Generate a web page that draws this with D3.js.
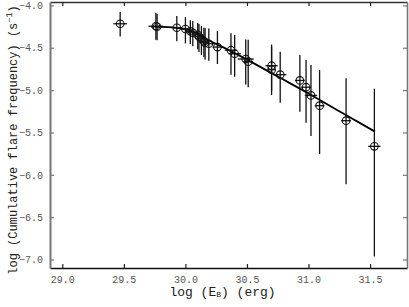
<!DOCTYPE html>
<html>
<head>
<meta charset="utf-8">
<script src="https://cdn.jsdelivr.net/npm/d3@7"></script>
<style>
  body { margin: 0; background: #fff; }
  svg { display: block; }
  text { font-family: "Liberation Mono", "DejaVu Sans Mono", monospace; }
</style>
</head>
<body>
<div id="grafico"></div>
<script>
// ==============================
// DATOS
// ==============================

const logE = [29.47, 29.76, 29.77, 29.93, 30.00, 30.04, 30.06, 30.10, 30.11, 30.13,
  30.15, 30.16, 30.19, 30.26, 30.37, 30.40, 30.49, 30.51, 30.70, 30.70,
  30.77, 30.93, 30.98, 31.02, 31.09, 31.305, 31.535];
const logF = [-4.217, -4.246, -4.252, -4.264, -4.279, -4.305, -4.323, -4.347, -4.370, -4.394,
  -4.423, -4.441, -4.453, -4.492, -4.529, -4.571, -4.633, -4.665, -4.712, -4.759,
  -4.818, -4.886, -4.966, -5.063, -5.184, -5.361, -5.664];
const errArriba = [0.14, 0.16, 0.15, 0.14, 0.14, 0.13, 0.14, 0.14, 0.15, 0.15,
  0.16, 0.17, 0.18, 0.19, 0.20, 0.22, 0.23, 0.26, 0.25, 0.27,
  0.27, 0.30, 0.32, 0.36, 0.42, 0.50, 0.68];
const errAbajo = [0.15, 0.16, 0.16, 0.16, 0.17, 0.15, 0.16, 0.17, 0.18, 0.19,
  0.19, 0.20, 0.20, 0.20, 0.29, 0.27, 0.30, 0.30, 0.30, 0.30,
  0.33, 0.37, 0.42, 0.48, 0.57, 0.75, 1.30];
const errE = [0.055, 0.06, 0.05, 0.04, 0.035, 0.03, 0.04, 0.04, 0.03, 0.035,
  0.04, 0.03, 0.04, 0.04, 0.05, 0.05, 0.065, 0.04, 0.05, 0.03,
  0.05, 0.04, 0.04, 0.05, 0.04, 0.04, 0.05];

// curva de ajuste
const ajusteX = [29.76, 29.93, 30.00, 30.10, 30.20, 30.30, 30.50, 30.75, 31.00, 31.25, 31.54];
const ajusteY = [-4.25, -4.265, -4.28, -4.335, -4.42, -4.49, -4.64, -4.84, -5.04, -5.25, -5.49];

const ticksX = [29.0, 29.5, 30.0, 30.5, 31.0, 31.5];
const ticksY = [-4.0, -4.5, -5.0, -5.5, -6.0, -6.5, -7.0];

// ==============================
// SVG Y ESCALAS
// ==============================

const W = 409, H = 307;
const m = { left: 50, right: 2, top: 2, bottom: 39 };

const svg = d3.select("#grafico").append("svg")
  .attr("width", W).attr("height", H);

const x = d3.scaleLinear().domain([28.9, 31.8]).range([m.left, W - m.right]);
const y = d3.scaleLinear().domain([-7.1, -3.96]).range([H - m.bottom, m.top]);

const fmt = d => d3.format(".1f")(d).replace("-", "\u2212");

// ejes (ticks hacia dentro)
svg.append("g")
  .attr("transform", `translate(0,${H - m.bottom})`)
  .call(d3.axisBottom(x).tickValues(ticksX).tickSizeInner(-4).tickSizeOuter(0).tickPadding(8).tickFormat(fmt))
  .call(g => g.select(".domain").attr("stroke", "#111").attr("stroke-width", 1.6))
  .call(g => g.selectAll(".tick line").attr("stroke", "#222").attr("stroke-width", 1.2))
  .call(g => g.selectAll("text").attr("font-size", 10).attr("fill", "#555")
    .attr("font-family", "Liberation Mono"));

svg.append("g")
  .attr("transform", `translate(0,${m.top})`)
  .call(d3.axisTop(x).tickValues(ticksX).tickSizeInner(-4).tickSizeOuter(0).tickFormat(""))
  .call(g => g.select(".domain").attr("stroke", "#333").attr("stroke-width", 1.4))
  .call(g => g.selectAll(".tick line").attr("stroke", "#222").attr("stroke-width", 1.2));

svg.append("g")
  .attr("transform", `translate(${m.left},0)`)
  .call(d3.axisLeft(y).tickValues(ticksY).tickSizeInner(-4).tickSizeOuter(0).tickPadding(7).tickFormat(fmt))
  .call(g => g.select(".domain").attr("stroke", "#777").attr("stroke-width", 2))
  .call(g => g.selectAll(".tick line").attr("stroke", "#777").attr("stroke-width", 1.2))
  .call(g => g.selectAll("text").attr("font-size", 10).attr("fill", "#555")
    .attr("font-family", "Liberation Mono"));

svg.append("g")
  .attr("transform", `translate(${W - m.right},0)`)
  .call(d3.axisRight(y).tickValues(ticksY).tickSizeInner(-4).tickSizeOuter(0).tickFormat(""))
  .call(g => g.select(".domain").attr("stroke", "#777").attr("stroke-width", 1.6))
  .call(g => g.selectAll(".tick line").attr("stroke", "#777").attr("stroke-width", 1.2));

// ==============================
// CURVA DE AJUSTE
// ==============================

const linea = d3.line()
  .x((d, i) => x(ajusteX[i]))
  .y(d => y(d))
  .curve(d3.curveMonotoneX);

svg.append("path")
  .datum(ajusteY)
  .attr("d", linea)
  .attr("fill", "none")
  .attr("stroke", "#000")
  .attr("stroke-width", 1.8);

// ==============================
// PUNTOS CON BARRAS DE ERROR
// ==============================

const puntos = svg.append("g").selectAll("g")
  .data(logE.map((e, i) => ({ e, f: logF[i], up: errArriba[i], dn: errAbajo[i], ex: errE[i] })))
  .join("g");

puntos.append("line")
  .attr("x1", d => x(d.e)).attr("x2", d => x(d.e))
  .attr("y1", d => y(d.f + d.up)).attr("y2", d => y(d.f - d.dn))
  .attr("stroke", "#111").attr("stroke-width", 1.3);

puntos.append("line")
  .attr("x1", d => x(d.e - d.ex)).attr("x2", d => x(d.e + d.ex))
  .attr("y1", d => y(d.f)).attr("y2", d => y(d.f))
  .attr("stroke", "#111").attr("stroke-width", 1.3);

puntos.append("circle")
  .attr("cx", d => x(d.e)).attr("cy", d => y(d.f))
  .attr("r", 3.8)
  .attr("fill", "none")
  .attr("stroke", "#111").attr("stroke-width", 1.1);

// ==============================
// ETIQUETAS
// ==============================

const etX = svg.append("text")
  .attr("x", (m.left + W - m.right) / 2 - 6)
  .attr("y", 296)
  .attr("text-anchor", "middle")
  .attr("font-size", 13)
  .attr("fill", "#222");
etX.append("tspan").text("log (E");
etX.append("tspan").attr("font-size", 8).attr("dy", 1).text("B");
etX.append("tspan").attr("dy", -1).text(") (erg)");

const etY = svg.append("text")
  .attr("transform", "translate(17,140) rotate(-90)")
  .attr("text-anchor", "middle")
  .attr("font-size", 12)
  .attr("fill", "#222");
etY.append("tspan").text("log (Cumulative flare frequency) (s");
etY.append("tspan").attr("font-size", 8.5).attr("dy", -5).text("\u22121");
etY.append("tspan").attr("dy", 5).text(")");
</script>
</body>
</html>
